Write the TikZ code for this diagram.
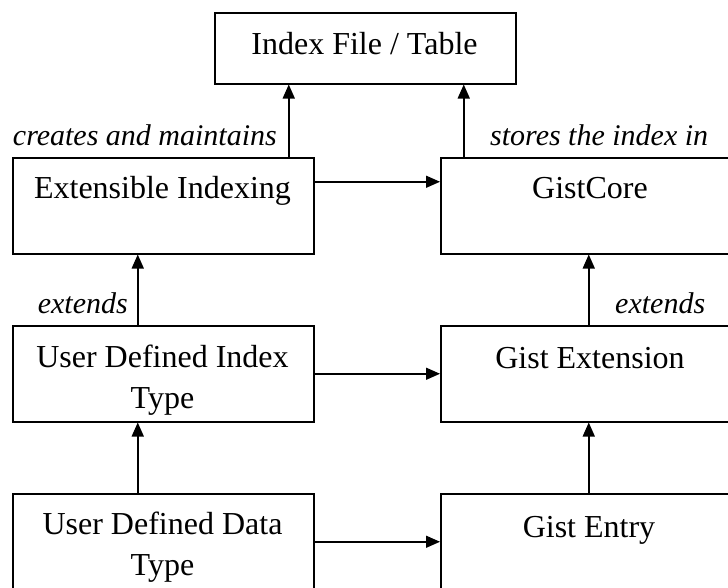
\documentclass[tikz,border=0pt]{standalone}
\usepackage{fontspec}
\setmainfont{Liberation Serif}
\usetikzlibrary{arrows.meta}
\begin{document}
\begin{tikzpicture}[x=1pt,y=-1pt,
  box/.style={draw=black, line width=1.5pt, rectangle, minimum width=301pt, inner sep=0pt, anchor=north west},
  boxtext/.style={font=\fontsize{32}{41}\selectfont, align=center, anchor=base, inner sep=0pt},
  lbl/.style={font=\fontsize{30}{36}\selectfont\itshape, inner sep=0pt},
  arr/.style={draw=black, line width=1.5pt, -{Triangle[length=14pt,width=12pt]}}]
\useasboundingbox (0,0) rectangle (728,587);
\clip (0,0) rectangle (728,587);

% boxes
\node[box, minimum height=71pt] (top) at (214,12) {};
\node[box, minimum height=96pt] (ei) at (12,157) {};
\node[box, minimum height=96pt] (gc) at (440,157) {};
\node[box, minimum height=96pt] (udit) at (12,325) {};
\node[box, minimum height=96pt] (ge) at (440,325) {};
\node[box, minimum height=96pt] (uddt) at (12,493) {};
\node[box, minimum height=96pt] (gent) at (440,493) {};

% texts
\node[boxtext] (ttop) at (364.5,54) {Index File / Table};
\node[boxtext] (tei) at (162.5,198) {Extensible Indexing};
\node[boxtext] (tgc) at (590,198) {GistCore};
\node[boxtext] (tudit) at (162.5,408) {User Defined Index\\Type};
\node[boxtext] (tge) at (590,368) {Gist Extension};
\node[boxtext] (tuddt) at (162.5,575) {User Defined Data\\Type};
\node[boxtext] (tgent) at (589,537) {Gist Entry};

% labels
\node[lbl, anchor=base east] (l1) at (277,145) {creates and maintains};
\node[lbl, anchor=base west] (l2) at (490,145) {stores the index in};
\node[lbl, anchor=base east] (l3) at (128,313) {extends};
\node[lbl, anchor=base west] (l4) at (615,313) {extends};

% vertical connectors
\draw[arr] ([xshift=125.5pt]ei.north) coordinate (a1) -- (a1 |- top.south);
\draw[arr] ([xshift=-127.5pt]gc.north) coordinate (a2) -- (a2 |- top.south);
\draw[arr] ([xshift=-25.5pt]udit.north) coordinate (a3) -- (a3 |- ei.south);
\draw[arr] ([xshift=-2.5pt]ge.north) coordinate (a4) -- (a4 |- gc.south);
\draw[arr] ([xshift=-25.5pt]uddt.north) coordinate (a5) -- (a5 |- udit.south);
\draw[arr] ([xshift=-2.5pt]gent.north) coordinate (a6) -- (a6 |- ge.south);

% horizontal connectors
\draw[arr] ([yshift=24pt]ei.east) coordinate (h1) -- (h1 -| gc.west);
\draw[arr] (udit.east) -- (ge.west);
\draw[arr] (uddt.east) -- (gent.west);
\end{tikzpicture}
\end{document}
